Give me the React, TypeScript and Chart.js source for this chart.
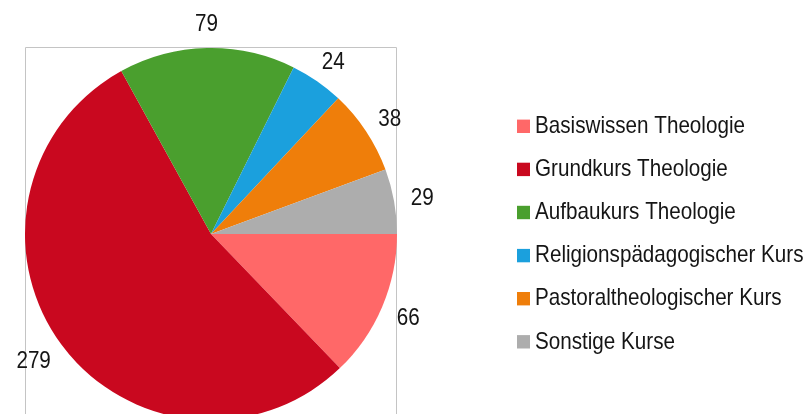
import React, { useEffect, useRef } from "react";
import { Chart, registerables } from "chart.js";

Chart.register(...registerables);

const categories = [
  "Basiswissen Theologie",
  "Grundkurs Theologie",
  "Aufbaukurs Theologie",
  "Religionspädagogischer Kurs",
  "Pastoraltheologischer Kurs",
  "Sonstige Kurse",
];
const values = [66, 279, 79, 24, 38, 29];
const colors = ["#FF6868", "#C9081F", "#4A9F2E", "#1BA0DD", "#EF7E0A", "#ADADAD"];

const FONT = '"Liberation Sans", Arial, sans-serif';
const SIZE = 24;
const SX = 0.86;
const DIGIT_H = SIZE * 0.716;

function drawText(ctx: CanvasRenderingContext2D, text: string, x: number, baseline: number, align: "left" | "center") {
  ctx.save();
  ctx.translate(x, baseline);
  ctx.scale(SX, 1);
  ctx.font = `${SIZE}px ${FONT}`;
  ctx.fillStyle = "#151515";
  ctx.textAlign = align;
  ctx.textBaseline = "alphabetic";
  ctx.fillText(text, 0, 0);
  ctx.restore();
}

const framePlugin = {
  id: "frame",
  beforeDatasetsDraw(chart: any) {
    const { ctx, chartArea } = chart;
    ctx.save();
    ctx.strokeStyle = "#C4C4C4";
    ctx.lineWidth = 1;
    ctx.beginPath();
    ctx.moveTo(chartArea.left + 0.5, 500);
    ctx.lineTo(chartArea.left + 0.5, chartArea.top - 0.5);
    ctx.lineTo(chartArea.right - 0.5, chartArea.top - 0.5);
    ctx.lineTo(chartArea.right - 0.5, 500);
    ctx.stroke();
    ctx.restore();
  },
  afterDatasetsDraw(chart: any) {
    const { ctx } = chart;
    const meta = chart.getDatasetMeta(0);
    const gap = 17;
    meta.data.forEach((el: any, i: number) => {
      const p = el.getProps(["x", "y", "startAngle", "endAngle", "outerRadius"], true);
      const mid = (p.startAngle + p.endAngle) / 2;
      const text = String(values[i]);
      ctx.save();
      ctx.font = `${SIZE}px ${FONT}`;
      const w = ctx.measureText(text).width * SX;
      ctx.restore();
      const c = Math.cos(mid);
      const s = Math.sin(mid);
      const cx = p.x + c * (p.outerRadius + gap + w / 2);
      const cy = p.y + s * (p.outerRadius + gap + DIGIT_H / 2);
      drawText(ctx, text, cx, cy + DIGIT_H / 2, "center");
    });
    // legend
    categories.forEach((name, i) => {
      const base = 133 + i * 43.1;
      ctx.fillStyle = colors[i];
      ctx.fillRect(517, base - 13.4, 13, 13.4);
      drawText(ctx, name, 535, base, "left");
    });
  },
};

export default function App() {
  const ref = useRef<HTMLCanvasElement>(null);
  useEffect(() => {
    const chart = new Chart(ref.current!, {
      type: "pie",
      data: {
        labels: categories,
        datasets: [
          {
            data: values,
            backgroundColor: colors,
            borderWidth: 0,
          },
        ],
      },
      options: {
        responsive: false,
        animation: false,
        rotation: 90,
        layout: { padding: { left: 25, right: 411, top: 48, bottom: 10 } },
        plugins: {
          legend: { display: false },
          tooltip: { enabled: false },
        },
      },
      plugins: [framePlugin],
    });
    return () => chart.destroy();
  }, []);
  return (
    <div style={{ position: "fixed", left: 0, top: 0, width: 808, height: 430, background: "#fff" }}>
      <canvas ref={ref} width={808} height={430} />
    </div>
  );
}
